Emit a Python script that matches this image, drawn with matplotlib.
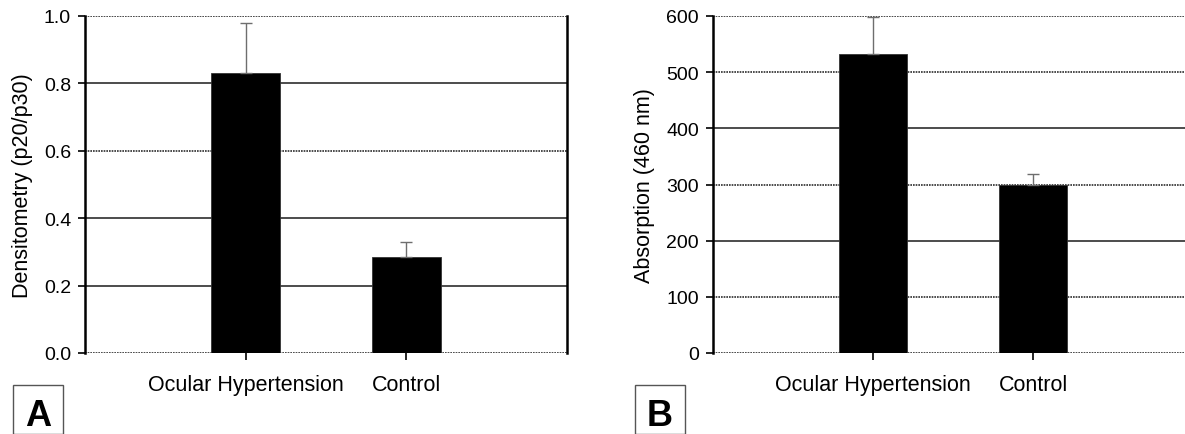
import matplotlib
matplotlib.use("Agg")
import matplotlib.pyplot as plt
from matplotlib.patches import Rectangle

plt.rcParams.update({
    "font.family": ["Liberation Sans", "DejaVu Sans"],
    "font.size": 15.5,
})

GRADE = "#2e2e2e"
ERRO = "#6e6e6e"

grupos = ["Ocular Hypertension", "Control"]

# painel A - densitometria
dens_media = [0.83, 0.285]
dens_erro = [0.15, 0.045]
dens_ticks = [0.0, 0.2, 0.4, 0.6, 0.8, 1.0]
dens_ticklabels = ["0.0", "0.2", "0.4", "0.6", "0.8", "1.0"]

# painel B - absorcao
abs_media = [532, 300]
abs_erro = [66, 18]
abs_ticks = [0, 100, 200, 300, 400, 500, 600]
abs_ticklabels = ["0", "100", "200", "300", "400", "500", "600"]

W, H = 1185, 435
fig = plt.figure(figsize=(W / 100, H / 100), dpi=100)


def painel(rect, medias, erros, ticks, ticklabels, estilos, ylabel, letra, caixa_x, direita):
    ax = fig.add_axes(rect)
    pos = list(range(len(medias)))
    ax.bar(pos, medias, width=0.43, color="black", edgecolor="#333333", linewidth=0.6, zorder=3)
    ax.errorbar(pos, medias, yerr=[[0] * len(erros), erros], fmt="none",
                ecolor=ERRO, elinewidth=1.0, capsize=4, capthick=1.0, zorder=4)
    for t, est in zip(ticks, estilos):
        ls = "-" if est == "s" else (0, (1, 0.6))
        ax.axhline(t, color=GRADE, linewidth=1.2, linestyle=ls, zorder=1)
    ax.set_xlim(-1, 2)
    ax.set_ylim(ticks[0], ticks[-1])
    ax.set_yticks(ticks)
    ax.set_yticklabels(ticklabels, fontsize=14)
    ax.set_xticks(pos)
    ax.set_xticklabels(grupos)
    ax.tick_params(axis="y", direction="out", length=5, width=1.2, pad=5)
    ax.tick_params(axis="x", direction="out", length=5, width=1.2, pad=10)
    ax.set_ylabel(ylabel, labelpad=8)
    for s in ("top", "bottom"):
        ax.spines[s].set_visible(False)
    ax.spines["left"].set_linewidth(1.8)
    ax.spines["right"].set_visible(direita)
    ax.spines["right"].set_linewidth(1.8)

    # caixa com a letra do painel
    fig.patches.append(Rectangle((caixa_x / W, 0), 50 / W, 49 / H, transform=fig.transFigure,
                                 facecolor="white", edgecolor="#555555", linewidth=1.0))
    fig.text((caixa_x + 25) / W, 18 / H, letra, ha="center", va="center",
             fontsize=26, fontweight="bold")
    return ax


painel([85 / W, 81 / H, 482 / W, 337 / H], dens_media, dens_erro, dens_ticks, dens_ticklabels,
       ["d", "s", "s", "d", "s", "d"], "Densitometry (p20/p30)", "A", 13, True)
painel([713 / W, 81 / H, 480 / W, 337 / H], abs_media, abs_erro, abs_ticks, abs_ticklabels,
       ["d", "d", "s", "d", "s", "d", "d"], "Absorption (460 nm)", "B", 635, False)

fig.savefig("out.png", dpi=100)
